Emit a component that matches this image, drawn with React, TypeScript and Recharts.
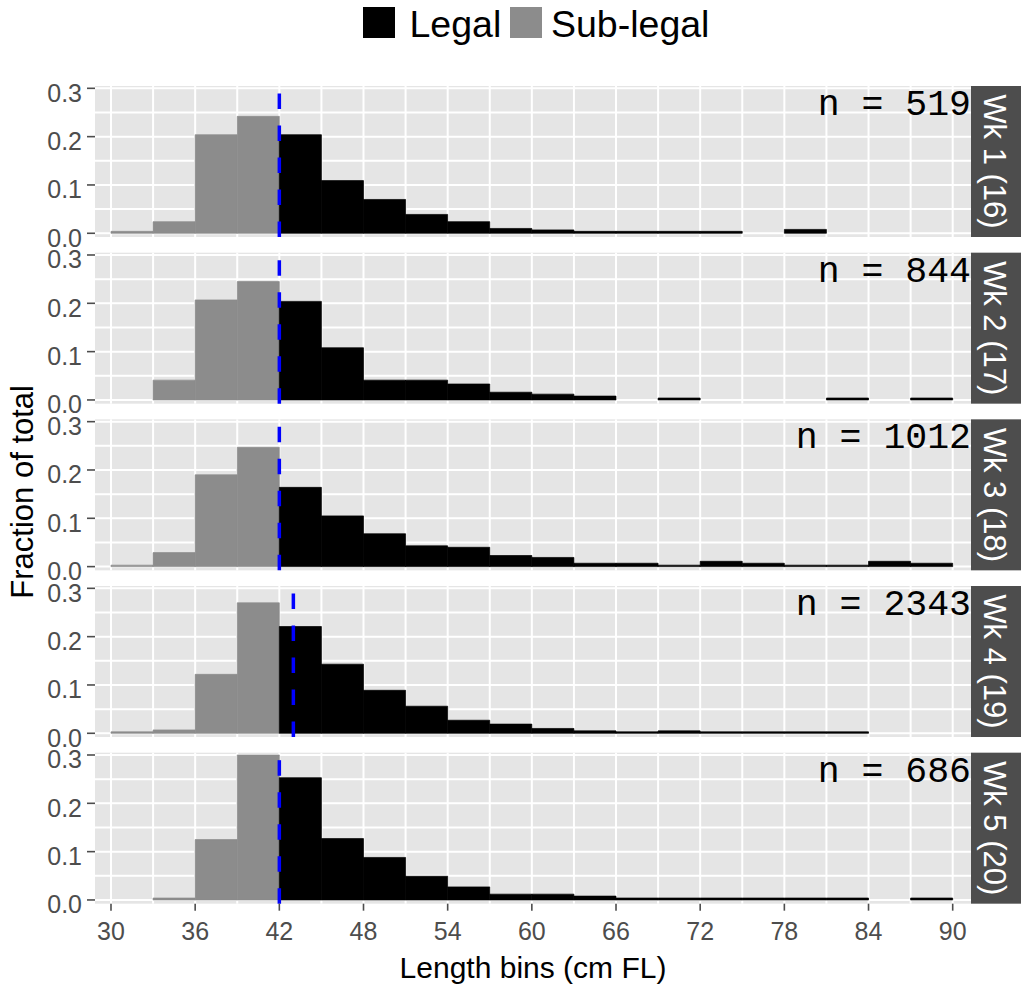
import React from 'react';
import {
  ComposedChart,
  Bar,
  XAxis,
  YAxis,
  CartesianGrid,
  ReferenceLine,
  ReferenceArea,
  Legend,
} from 'recharts';

// ---------------- data ----------------
const binStarts = [30, 33, 36, 39, 42, 45, 48, 51, 54, 57, 60, 63, 66, 69, 72, 75, 78, 81, 84, 87];
const binWidth = 3;
const binClass = [
  'Sub-legal', 'Sub-legal', 'Sub-legal', 'Sub-legal',
  'Legal', 'Legal', 'Legal', 'Legal', 'Legal', 'Legal', 'Legal', 'Legal',
  'Legal', 'Legal', 'Legal', 'Legal', 'Legal', 'Legal', 'Legal', 'Legal',
];

const weekLabels = ['Wk 1 (16)', 'Wk 2 (17)', 'Wk 3 (18)', 'Wk 4 (19)', 'Wk 5 (20)'];
const sampleSizes = [519, 844, 1012, 2343, 686];
const legalLimits = [42, 42, 42, 43, 42];

// fraction of total per 3-cm length bin (30–90 cm FL)
const wk1 = [0.004, 0.024, 0.204, 0.242, 0.204, 0.109, 0.070, 0.039, 0.024, 0.010, 0.007, 0.004, 0.004, 0.004, 0.004, 0, 0.008, 0, 0, 0];
const wk2 = [0, 0.041, 0.207, 0.245, 0.204, 0.108, 0.041, 0.041, 0.033, 0.016, 0.012, 0.008, 0, 0.004, 0, 0, 0, 0.004, 0, 0.004];
const wk3 = [0.003, 0.029, 0.190, 0.247, 0.164, 0.105, 0.068, 0.043, 0.040, 0.023, 0.019, 0.007, 0.007, 0.003, 0.011, 0.007, 0.003, 0.003, 0.011, 0.007];
const wk4 = [0.003, 0.007, 0.122, 0.270, 0.221, 0.143, 0.089, 0.056, 0.027, 0.019, 0.010, 0.005, 0.003, 0.005, 0.003, 0.003, 0.003, 0.003, 0, 0];
const wk5 = [0, 0.004, 0.125, 0.300, 0.253, 0.127, 0.088, 0.049, 0.027, 0.012, 0.012, 0.008, 0.004, 0.004, 0.004, 0.004, 0.004, 0.004, 0, 0.004];
const weekFractions = [wk1, wk2, wk3, wk4, wk5];

const xTicks = [30, 36, 42, 48, 54, 60, 66, 72, 78, 84, 90];
const xGridValues = [30, 33, 36, 39, 42, 45, 48, 51, 54, 57, 60, 63, 66, 69, 72, 75, 78, 81, 84, 87, 90];
const yTicks = [0, 0.1, 0.2, 0.3];
const yGridValues = [0, 0.05, 0.1, 0.15, 0.2, 0.25, 0.3];
const legendOrder = ['Legal', 'Sub-legal'];

// ---------------- layout / style ----------------
const SANS = '"Liberation Sans", Arial, Helvetica, sans-serif';
const MONO = '"Liberation Mono", "Courier New", monospace';
const W = 1021;
const H = 989;
const PLOT_LEFT = 95;
const STRIP_W = 50;
const PANEL_TOP = 86;
const PANEL_STEP = 166.67;
const PANEL_H = 151;
const X_DOMAIN: [number, number] = [28.86, 91.305];
const Y_DOMAIN: [number, number] = [-0.0077, 0.3048];
const PLOT_W = W - PLOT_LEFT - STRIP_W;
// width of one 3-cm bin in pixels (just under the band so Recharts keeps it)
const BAR_PX = ((binWidth * PLOT_W) / (X_DOMAIN[1] - X_DOMAIN[0])) * 0.9995;
const LEGEND_KEY_X = [363, 510];
const LEGEND_TEXT_X = [409.5, 551];
const LEGAL_COLOR = '#000000';
const SUB_COLOR = '#8c8c8c';

function YTick(props: any) {
  const { x, y, payload } = props;
  return (
    <text x={x} y={y} dy={13.5} textAnchor="end" fill="#4d4d4d" fontSize={25} fontFamily={SANS}>
      {Number(payload.value).toFixed(1)}
    </text>
  );
}

function LegendContent(props: any) {
  const items = [...(props.payload || [])].sort(
    (a: any, b: any) => legendOrder.indexOf(a.value) - legendOrder.indexOf(b.value)
  );
  return (
    <svg width={W} height={46} style={{ display: 'block' }}>
      {items.map((it: any, i: number) => (
        <g key={it.value}>
          <rect x={LEGEND_KEY_X[i]} y={7} width={32} height={31} fill={it.color} />
          <text x={LEGEND_TEXT_X[i]} y={36.7} fontSize={37.5} fontFamily={SANS} fill="#000">
            {it.value}
          </text>
        </g>
      ))}
    </svg>
  );
}

function Panel({ index }: { index: number }) {
  const values = weekFractions[index];
  const data = binStarts.map((start, j) => ({
    mid: start + binWidth / 2,
    subLegal: binClass[j] === 'Sub-legal' ? values[j] : 0,
    legal: binClass[j] === 'Legal' ? values[j] : 0,
  }));
  const top = PANEL_TOP + index * PANEL_STEP;
  const bottomSpace = H - top - PANEL_H;
  const isBottom = index === weekLabels.length - 1;
  const isMiddle = index === 2;
  const limit = legalLimits[index];

  return (
    <div style={{ position: 'absolute', left: 0, top: 0 }}>
      <ComposedChart
        width={W}
        height={H}
        data={data}
        margin={{ top, right: 0, left: 0, bottom: isBottom ? 0 : bottomSpace }}
        barCategoryGap={0}
        barGap={0}
      >
        <CartesianGrid
          fill="#e5e5e5"
          fillOpacity={1}
          stroke="#ffffff"
          strokeWidth={2}
          horizontalValues={yGridValues}
          verticalValues={xGridValues}
        />
        <XAxis
          dataKey="mid"
          type="number"
          domain={X_DOMAIN}
          allowDataOverflow
          ticks={xTicks}
          interval={0}
          hide={!isBottom}
          height={isBottom ? bottomSpace : 0}
          axisLine={false}
          tickLine={{ stroke: '#4d4d4d', strokeWidth: 1.6 }}
          tickSize={7}
          tickMargin={11.5}
          tick={{ fill: '#4d4d4d', fontSize: 25, fontFamily: SANS }}
          label={
            isBottom
              ? {
                  content: (p: any) => {
                    const vb = p.viewBox;
                    return (
                      <text
                        x={vb.x + vb.width / 2}
                        y={vb.y + vb.height - 10.7}
                        textAnchor="middle"
                        fontSize={30}
                        fontFamily={SANS}
                        fill="#000"
                      >
                        Length bins (cm FL)
                      </text>
                    );
                  },
                }
              : undefined
          }
        />
        <YAxis
          type="number"
          domain={Y_DOMAIN}
          allowDataOverflow
          ticks={yTicks}
          interval={0}
          width={PLOT_LEFT}
          axisLine={false}
          tickLine={{ stroke: '#4d4d4d', strokeWidth: 1.6 }}
          tickSize={8}
          tickMargin={5}
          tick={YTick}
          label={
            isMiddle
              ? {
                  content: (p: any) => {
                    const vb = p.viewBox;
                    const cx = vb.x + 22.3;
                    const cy = vb.y + vb.height / 2 - 3;
                    return (
                      <text
                        x={cx}
                        y={cy}
                        dy="0.355em"
                        textAnchor="middle"
                        transform={`rotate(-90, ${cx}, ${cy})`}
                        fontSize={31}
                        fontFamily={SANS}
                        fill="#000"
                      >
                        Fraction of total
                      </text>
                    );
                  },
                }
              : undefined
          }
        />
        <YAxis
          yAxisId="strip"
          orientation="right"
          width={STRIP_W}
          domain={[0, 1]}
          tick={false}
          tickLine={false}
          axisLine={false}
          label={{
            content: (p: any) => {
              const vb = p.viewBox;
              const cx = vb.x + vb.width / 2 - 1;
              const cy = vb.y + vb.height / 2;
              return (
                <g>
                  <rect x={vb.x} y={vb.y} width={vb.width} height={vb.height} fill="#4d4d4d" />
                  <text
                    x={cx}
                    y={cy}
                    dy="0.355em"
                    textAnchor="middle"
                    transform={`rotate(90, ${cx}, ${cy})`}
                    fontSize={31}
                    fontFamily={SANS}
                    fill="#ffffff"
                  >
                    {weekLabels[index]}
                  </text>
                </g>
              );
            },
          }}
        />
        <Bar
          dataKey="subLegal"
          name="Sub-legal"
          stackId="h"
          fill={SUB_COLOR}
          stroke={SUB_COLOR}
          strokeWidth={0.7}
          barSize={BAR_PX}
          isAnimationActive={false}
        />
        <Bar
          dataKey="legal"
          name="Legal"
          stackId="h"
          fill={LEGAL_COLOR}
          stroke={LEGAL_COLOR}
          strokeWidth={0.7}
          barSize={BAR_PX}
          isAnimationActive={false}
        />
        <ReferenceLine
          segment={[
            { x: limit, y: Y_DOMAIN[0] },
            { x: limit, y: Y_DOMAIN[1] },
          ]}
          stroke="#0000ff"
          strokeWidth={3.5}
          strokeDasharray="15.5 16.5"
          ifOverflow="visible"
        />
        <ReferenceArea
          x1={X_DOMAIN[0]}
          x2={X_DOMAIN[1]}
          y1={Y_DOMAIN[0]}
          y2={Y_DOMAIN[1]}
          fill="none"
          fillOpacity={0}
          stroke="none"
          ifOverflow="visible"
          label={{
            content: (p: any) => {
              const vb = p.viewBox;
              return (
                <text
                  x={vb.x + vb.width}
                  y={vb.y + 29}
                  textAnchor="end"
                  fontSize={36.5}
                  fontFamily={MONO}
                  fill="#000"
                >
                  {`n = ${sampleSizes[index]}`}
                </text>
              );
            },
          }}
        />
        {index === 0 && (
          <Legend
            layout="horizontal"
            verticalAlign="middle"
            align="center"
            wrapperStyle={{ top: 0, left: 0, width: W, height: 46 }}
            content={LegendContent}
          />
        )}
      </ComposedChart>
    </div>
  );
}

export default function App() {
  return (
    <div
      style={{
        position: 'absolute',
        left: 0,
        top: 0,
        width: W,
        height: H,
        background: '#ffffff',
        fontFamily: SANS,
        overflow: 'hidden',
      }}
    >
      {weekLabels.map((_, i) => (
        <Panel key={i} index={i} />
      ))}
    </div>
  );
}
